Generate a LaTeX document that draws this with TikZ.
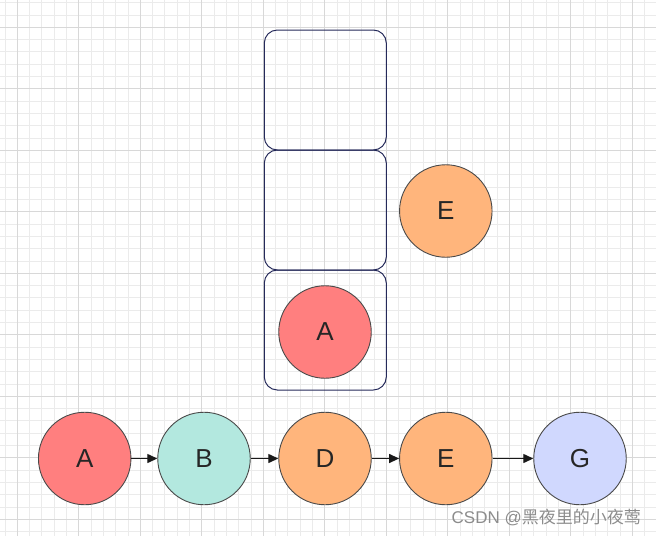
\documentclass[tikz,border=0pt]{standalone}
\usepackage{fontspec}
\setmainfont{Liberation Sans}
\newfontfamily\cjkfont{Noto Sans CJK SC}
\usetikzlibrary{arrows.meta}
\definecolor{minorgrid}{HTML}{EBEBEB}
\definecolor{majorgrid}{HTML}{D8D8D8}
\definecolor{cred}{HTML}{FF7F7F}
\definecolor{cteal}{HTML}{B3E8DF}
\definecolor{corange}{HTML}{FFB57C}
\definecolor{clav}{HTML}{D0D8FE}
\definecolor{cedge}{HTML}{4A4A4A}
\definecolor{boxedge}{HTML}{252A5A}
\tikzset{
  minorline/.style={draw=minorgrid, line width=1pt},
  majorline/.style={draw=majorgrid, line width=1pt},
  ball/.style={circle, draw=cedge, line width=0.9pt, minimum size=92.5pt, inner sep=0pt,
    font=\fontsize{26}{30}\selectfont, text=black!85},
  slotbox/.style={draw=boxedge, line width=1pt, rounded corners=13pt,
    minimum width=122pt, minimum height=120pt, inner sep=0pt},
  link/.style={draw=black!90, line width=1.3pt, -{Triangle[length=10pt,width=9pt]}},
}
\begin{document}
\begin{tikzpicture}[x=1pt,y=-1pt]
\useasboundingbox (0,0) rectangle (656,536);
\fill[white] (0,0) rectangle (656,536);
% grid
\foreach \i in {-1,...,52} \draw[minorline] ({17.3+12.3*\i},0) -- ({17.3+12.3*\i},536);
\foreach \j in {-2,...,42} \draw[minorline] (0,{27.3+12.3*\j}) -- (656,{27.3+12.3*\j});
\foreach \i in {0,5,...,50} \draw[majorline] ({17.3+12.3*\i},0) -- ({17.3+12.3*\i},536);
\foreach \j in {0,5,...,40} \draw[majorline] (0,{27.3+12.3*\j}) -- (656,{27.3+12.3*\j});
% stack
\node[slotbox] (s1) at (325.3,90) {};
\node[slotbox] (s2) at (325.3,210) {};
\node[slotbox] (s3) at (325.3,330) {};
\node[ball, fill=cred] (sa) at (325,332) {A};
\node[ball, fill=corange] (se) at (445.8,211) {E};
% chain
\node[ball, fill=cred] (a) at (84.7,458.5) {A};
\node[ball, fill=cteal] (b) at (204,458.5) {B};
\node[ball, fill=corange] (d) at (325,458.5) {D};
\node[ball, fill=corange] (e) at (445.8,458.5) {E};
\node[ball, fill=clav] (g) at (580,458.5) {G};
\draw[link] (a) -- (b);
\draw[link] (b) -- (d);
\draw[link] (d) -- (e);
\draw[link] (e) -- (g);
% watermark
\node[anchor=east, text=black!45, font=\fontsize{17}{20}\selectfont, inner sep=0pt] (wm) at (641,517) {CSDN @\cjkfont 黑夜里的小夜莺};
\end{tikzpicture}
\end{document}
